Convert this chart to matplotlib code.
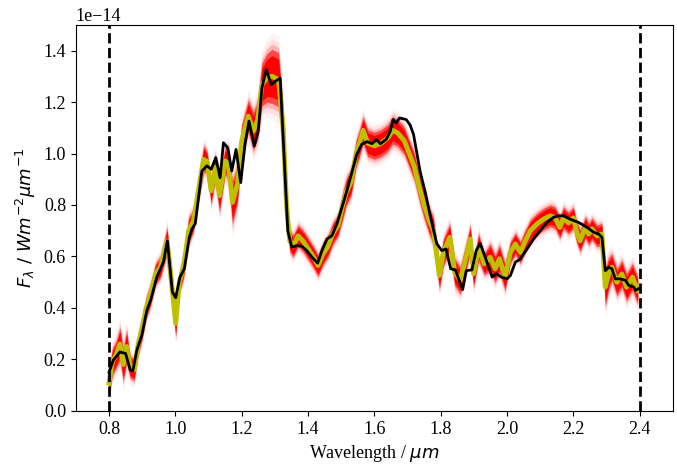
import matplotlib
matplotlib.use("agg")
import matplotlib.pyplot as plt
import numpy as np

plt.rcParams['font.family'] = ['Liberation Serif', 'DejaVu Serif']
plt.rcParams['font.size'] = 13

# observed spectrum (black)
wl_obs = [0.800, 0.813, 0.833, 0.850, 0.864, 0.872, 0.884, 0.899, 0.914, 0.927,
          0.944, 0.964, 0.976, 0.991, 1.001, 1.014, 1.027, 1.042, 1.050, 1.060,
          1.080, 1.095, 1.108, 1.122, 1.135, 1.145, 1.158, 1.170, 1.183, 1.197,
          1.210, 1.222, 1.238, 1.250, 1.261, 1.274, 1.289, 1.301, 1.316, 1.329,
          1.339, 1.351, 1.366, 1.381, 1.396, 1.412, 1.429, 1.442, 1.457, 1.472,
          1.487, 1.502, 1.517, 1.532, 1.547, 1.562, 1.578, 1.593, 1.606, 1.618,
          1.636, 1.648, 1.656, 1.666, 1.676, 1.696, 1.708, 1.718, 1.738, 1.755,
          1.768, 1.788, 1.803, 1.816, 1.830, 1.844, 1.866, 1.877, 1.894, 1.907,
          1.919, 1.934, 1.955, 1.968, 1.982, 2.000, 2.010, 2.025, 2.040, 2.060,
          2.080, 2.100, 2.120, 2.140, 2.155, 2.170, 2.190, 2.216, 2.241, 2.261,
          2.276, 2.286, 2.296, 2.306, 2.316, 2.326, 2.341, 2.357, 2.367, 2.382,
          2.387, 2.397]
flux_obs = [0.150, 0.197, 0.229, 0.223, 0.159, 0.156, 0.236, 0.294, 0.390, 0.436,
            0.520, 0.578, 0.661, 0.462, 0.440, 0.520, 0.552, 0.674, 0.707, 0.727,
            0.932, 0.952, 0.939, 0.984, 0.906, 1.042, 1.022, 0.932, 1.016, 0.887,
            1.036, 1.126, 1.029, 1.087, 1.255, 1.326, 1.268, 1.280, 1.293, 0.958,
            0.700, 0.636, 0.642, 0.640, 0.623, 0.597, 0.574, 0.623, 0.668, 0.681,
            0.726, 0.790, 0.855, 0.926, 0.997, 1.036, 1.046, 1.038, 1.055, 1.038,
            1.055, 1.087, 1.132, 1.119, 1.138, 1.132, 1.110, 1.074, 0.930, 0.840,
            0.760, 0.650, 0.623, 0.629, 0.552, 0.548, 0.471, 0.545, 0.548, 0.623,
            0.651, 0.597, 0.520, 0.533, 0.520, 0.513, 0.526, 0.578, 0.590, 0.629,
            0.668, 0.700, 0.732, 0.752, 0.758, 0.758, 0.745, 0.732, 0.713, 0.694,
            0.687, 0.674, 0.545, 0.558, 0.552, 0.513, 0.513, 0.507, 0.487, 0.481,
            0.468, 0.475]

# best-fit model (yellow) and spread of the posterior draws (red)
wl_mod = [0.800, 0.810, 0.822, 0.833, 0.843, 0.853, 0.864, 0.876, 0.888, 0.900,
          0.912, 0.925, 0.940, 0.955, 0.975, 0.990, 1.001, 1.012, 1.025, 1.040,
          1.055, 1.070, 1.085, 1.095, 1.108, 1.120, 1.133, 1.150, 1.160, 1.172,
          1.187, 1.200, 1.220, 1.235, 1.248, 1.261, 1.276, 1.291, 1.311, 1.325,
          1.335, 1.345, 1.355, 1.370, 1.385, 1.400, 1.415, 1.430, 1.445, 1.460,
          1.475, 1.490, 1.505, 1.515, 1.530, 1.545, 1.555, 1.566, 1.580, 1.600,
          1.620, 1.640, 1.655, 1.670, 1.690, 1.705, 1.720, 1.735, 1.750, 1.765,
          1.778, 1.796, 1.808, 1.827, 1.842, 1.859, 1.874, 1.889, 1.899, 1.914,
          1.931, 1.949, 1.964, 1.977, 1.994, 2.010, 2.025, 2.040, 2.055, 2.070,
          2.090, 2.110, 2.130, 2.145, 2.159, 2.170, 2.185, 2.200, 2.210, 2.220,
          2.236, 2.246, 2.256, 2.271, 2.286, 2.296, 2.306, 2.316, 2.331, 2.346,
          2.360, 2.378, 2.394]
flux_mod = [0.108, 0.190, 0.220, 0.260, 0.180, 0.250, 0.170, 0.160, 0.260, 0.320,
            0.400, 0.450, 0.530, 0.560, 0.660, 0.480, 0.340, 0.500, 0.560, 0.700,
            0.740, 0.860, 0.977, 0.970, 0.855, 0.945, 0.836, 0.971, 0.960, 0.810,
            0.880, 1.048, 1.145, 1.087, 1.130, 1.268, 1.293, 1.300, 1.287, 1.100,
            0.800, 0.660, 0.640, 0.680, 0.660, 0.630, 0.600, 0.565, 0.610, 0.640,
            0.690, 0.720, 0.800, 0.850, 0.890, 1.000, 1.040, 1.090, 1.040, 1.030,
            1.040, 1.060, 1.090, 1.080, 1.050, 1.000, 0.950, 0.870, 0.800, 0.740,
            0.700, 0.526, 0.616, 0.674, 0.539, 0.507, 0.584, 0.668, 0.533, 0.636,
            0.571, 0.597, 0.552, 0.591, 0.520, 0.616, 0.649, 0.616, 0.661, 0.700,
            0.726, 0.745, 0.758, 0.750, 0.713, 0.750, 0.730, 0.750, 0.694, 0.661,
            0.713, 0.687, 0.707, 0.680, 0.687, 0.481, 0.532, 0.558, 0.500, 0.532,
            0.481, 0.520, 0.468]
spread = [0.05, 0.05, 0.05, 0.06, 0.06, 0.06, 0.04, 0.04, 0.04, 0.04,
          0.04, 0.04, 0.04, 0.04, 0.05, 0.05, 0.05, 0.04, 0.04, 0.05,
          0.04, 0.04, 0.05, 0.04, 0.05, 0.05, 0.06, 0.05, 0.06, 0.08,
          0.07, 0.06, 0.06, 0.07, 0.07, 0.08, 0.09, 0.10, 0.10, 0.08,
          0.05, 0.04, 0.04, 0.04, 0.04, 0.04, 0.04, 0.04, 0.04, 0.04,
          0.04, 0.04, 0.05, 0.05, 0.05, 0.05, 0.05, 0.05, 0.05, 0.05,
          0.05, 0.05, 0.05, 0.05, 0.05, 0.05, 0.05, 0.05, 0.05, 0.05,
          0.05, 0.05, 0.05, 0.05, 0.05, 0.05, 0.05, 0.05, 0.05, 0.05,
          0.04, 0.05, 0.05, 0.05, 0.05, 0.04, 0.04, 0.04, 0.04, 0.04,
          0.04, 0.04, 0.04, 0.04, 0.04, 0.04, 0.04, 0.04, 0.04, 0.04,
          0.04, 0.04, 0.04, 0.04, 0.04, 0.07, 0.06, 0.05, 0.05, 0.05,
          0.05, 0.05, 0.05]

scale = 1e-14
wl_obs = np.array(wl_obs)
flux_obs = np.array(flux_obs) * scale
wl_mod = np.array(wl_mod)
flux_mod = np.array(flux_mod) * scale
spread = np.array(spread) * scale

fig = plt.figure(figsize=(6.77, 4.68), dpi=100)
ax = fig.add_axes([0.112, 0.122, 0.882, 0.825])

# fuzzy red band from stacked layers
for k, a in [(1.7, 0.05), (1.45, 0.08), (1.25, 0.2), (1.05, 0.6), (0.8, 1.0)]:
    ax.fill_between(wl_mod, flux_mod - k * spread, flux_mod + k * spread,
                    color="red", alpha=a, lw=0)

ax.plot(wl_mod, flux_mod, color="y", lw=3.5)
ax.plot(wl_obs, flux_obs, color="black", lw=2)

ax.axvline(0.8, color="black", ls="--", lw=2)
ax.axvline(2.4, color="black", ls="--", lw=2)

ax.set_xlim(0.7, 2.5)
ax.set_ylim(0, 1.5e-14)
ax.set_xlabel(r"Wavelength / $\mu m$")
ax.set_ylabel(r"$F_{\lambda}\ /\ Wm^{-2}\mu m^{-1}$")

fig.savefig("out.png", dpi=100)
